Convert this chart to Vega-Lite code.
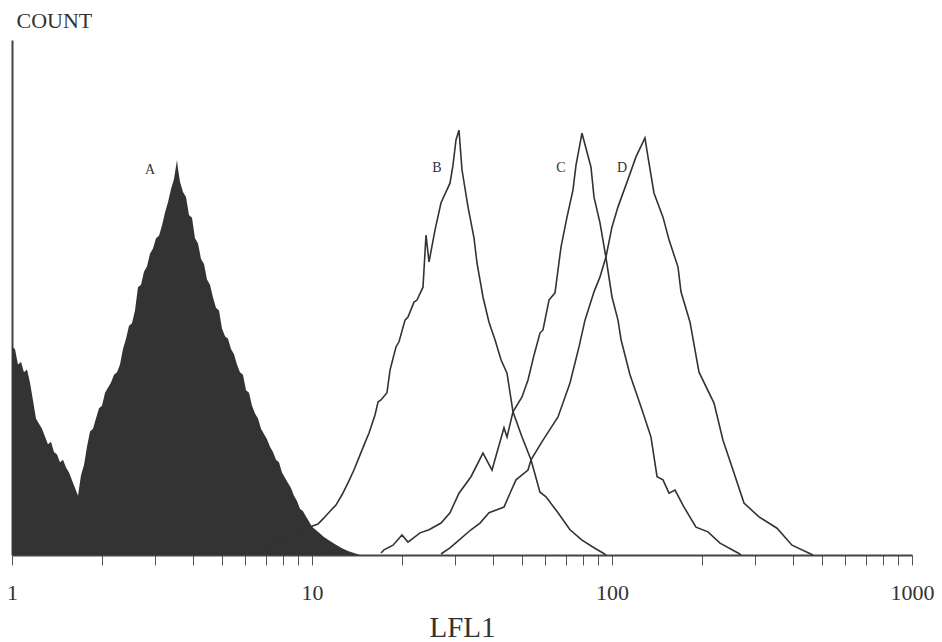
{
  "$schema": "https://vega.github.io/schema/vega-lite/v6.json",
  "width": 900,
  "height": 515,
  "autosize": {"type": "none"},
  "padding": {"left": 12, "top": 40, "right": 30, "bottom": 87},
  "background": "white",
  "config": {"view": {"stroke": null}, "font": "Liberation Serif"},
  "datasets": {
    "histA": [
      {"v": 1.000, "c": 40.4}, {"v": 1.023, "c": 40.0}, {"v": 1.047, "c": 37.0}, {"v": 1.072, "c": 37.5},
      {"v": 1.096, "c": 35.5}, {"v": 1.122, "c": 36.0}, {"v": 1.148, "c": 33.5}, {"v": 1.175, "c": 30.0},
      {"v": 1.202, "c": 26.5}, {"v": 1.230, "c": 25.5}, {"v": 1.259, "c": 24.5}, {"v": 1.288, "c": 23.0},
      {"v": 1.318, "c": 21.5}, {"v": 1.349, "c": 22.0}, {"v": 1.380, "c": 20.0}, {"v": 1.413, "c": 19.5},
      {"v": 1.445, "c": 18.0}, {"v": 1.479, "c": 18.5}, {"v": 1.514, "c": 17.0}, {"v": 1.549, "c": 16.0},
      {"v": 1.585, "c": 14.5}, {"v": 1.622, "c": 13.0}, {"v": 1.660, "c": 11.5}, {"v": 1.698, "c": 15.5},
      {"v": 1.738, "c": 17.5}, {"v": 1.778, "c": 21.0}, {"v": 1.820, "c": 24.0}, {"v": 1.862, "c": 24.5},
      {"v": 1.905, "c": 26.5}, {"v": 1.950, "c": 28.5}, {"v": 1.995, "c": 29.0}, {"v": 2.042, "c": 31.5},
      {"v": 2.138, "c": 33.5}, {"v": 2.188, "c": 35.0}, {"v": 2.239, "c": 35.5}, {"v": 2.291, "c": 37.0},
      {"v": 2.344, "c": 40.0}, {"v": 2.399, "c": 42.0}, {"v": 2.455, "c": 44.5}, {"v": 2.512, "c": 45.0},
      {"v": 2.570, "c": 47.5}, {"v": 2.630, "c": 52.0}, {"v": 2.692, "c": 52.5}, {"v": 2.754, "c": 55.0},
      {"v": 2.818, "c": 56.0}, {"v": 2.884, "c": 58.5}, {"v": 2.951, "c": 59.5}, {"v": 3.020, "c": 61.5},
      {"v": 3.090, "c": 62.0}, {"v": 3.162, "c": 64.0}, {"v": 3.236, "c": 66.5}, {"v": 3.311, "c": 68.5},
      {"v": 3.388, "c": 71.0}, {"v": 3.467, "c": 73.0}, {"v": 3.521, "c": 75.5}, {"v": 3.548, "c": 76.7},
      {"v": 3.575, "c": 75.0}, {"v": 3.631, "c": 72.5}, {"v": 3.715, "c": 70.5}, {"v": 3.802, "c": 69.5},
      {"v": 3.890, "c": 66.0}, {"v": 3.981, "c": 65.5}, {"v": 4.074, "c": 61.5}, {"v": 4.169, "c": 60.5},
      {"v": 4.266, "c": 57.5}, {"v": 4.365, "c": 56.5}, {"v": 4.467, "c": 53.5}, {"v": 4.571, "c": 52.5},
      {"v": 4.677, "c": 50.0}, {"v": 4.786, "c": 48.0}, {"v": 4.898, "c": 47.5}, {"v": 5.012, "c": 44.0},
      {"v": 5.129, "c": 42.5}, {"v": 5.248, "c": 42.0}, {"v": 5.370, "c": 40.0}, {"v": 5.495, "c": 39.0},
      {"v": 5.623, "c": 37.0}, {"v": 5.754, "c": 35.5}, {"v": 5.888, "c": 35.0}, {"v": 6.026, "c": 32.0},
      {"v": 6.166, "c": 31.5}, {"v": 6.310, "c": 29.0}, {"v": 6.457, "c": 27.5}, {"v": 6.607, "c": 26.5},
      {"v": 6.761, "c": 24.5}, {"v": 6.918, "c": 23.5}, {"v": 7.079, "c": 22.5}, {"v": 7.244, "c": 21.0},
      {"v": 7.413, "c": 20.0}, {"v": 7.586, "c": 18.5}, {"v": 7.762, "c": 18.0}, {"v": 7.943, "c": 16.0},
      {"v": 8.128, "c": 15.0}, {"v": 8.318, "c": 14.0}, {"v": 8.511, "c": 13.0}, {"v": 8.710, "c": 11.5},
      {"v": 8.913, "c": 10.5}, {"v": 9.120, "c": 9.0}, {"v": 9.333, "c": 8.5}, {"v": 9.550, "c": 7.5},
      {"v": 9.772, "c": 6.5}, {"v": 10.0, "c": 5.5}, {"v": 10.47, "c": 4.5}, {"v": 10.96, "c": 3.5},
      {"v": 11.48, "c": 2.7}, {"v": 12.02, "c": 2.0}, {"v": 12.59, "c": 1.3}, {"v": 13.18, "c": 0.8},
      {"v": 13.80, "c": 0.4}, {"v": 14.45, "c": 0.0}
    ],
    "curves": [
      {"s": "B", "v": 7.079, "c": 0.4}, {"s": "B", "v": 7.413, "c": 1.9}, {"s": "B", "v": 7.586, "c": 2.9},
      {"s": "B", "v": 7.762, "c": 2.3}, {"s": "B", "v": 8.128, "c": 3.9}, {"s": "B", "v": 8.318, "c": 3.5},
      {"s": "B", "v": 8.710, "c": 4.7}, {"s": "B", "v": 9.120, "c": 4.5}, {"s": "B", "v": 9.550, "c": 5.2},
      {"s": "B", "v": 10.0, "c": 5.6}, {"s": "B", "v": 10.47, "c": 6.0}, {"s": "B", "v": 10.96, "c": 7.2},
      {"s": "B", "v": 11.48, "c": 8.5}, {"s": "B", "v": 12.02, "c": 9.7}, {"s": "B", "v": 12.59, "c": 11.7},
      {"s": "B", "v": 13.18, "c": 14.0}, {"s": "B", "v": 13.80, "c": 16.5}, {"s": "B", "v": 14.45, "c": 19.4},
      {"s": "B", "v": 15.14, "c": 22.3}, {"s": "B", "v": 15.49, "c": 23.7}, {"s": "B", "v": 16.22, "c": 27.2},
      {"s": "B", "v": 16.60, "c": 29.7}, {"s": "B", "v": 16.98, "c": 30.1}, {"s": "B", "v": 17.78, "c": 31.5},
      {"s": "B", "v": 18.20, "c": 35.9}, {"s": "B", "v": 19.05, "c": 40.4}, {"s": "B", "v": 19.50, "c": 41.4},
      {"s": "B", "v": 20.42, "c": 45.6}, {"s": "B", "v": 20.89, "c": 46.2}, {"s": "B", "v": 21.88, "c": 49.1},
      {"s": "B", "v": 22.39, "c": 49.5}, {"s": "B", "v": 23.44, "c": 52.0}, {"s": "B", "v": 23.99, "c": 62.1},
      {"s": "B", "v": 24.55, "c": 56.9}, {"s": "B", "v": 25.70, "c": 63.1}, {"s": "B", "v": 26.92, "c": 68.4},
      {"s": "B", "v": 28.84, "c": 72.2}, {"s": "B", "v": 29.51, "c": 75.7}, {"s": "B", "v": 30.20, "c": 80.6},
      {"s": "B", "v": 30.90, "c": 82.5}, {"s": "B", "v": 31.62, "c": 74.8}, {"s": "B", "v": 33.11, "c": 67.6},
      {"s": "B", "v": 34.67, "c": 61.6}, {"s": "B", "v": 35.48, "c": 56.7}, {"s": "B", "v": 37.15, "c": 50.1},
      {"s": "B", "v": 38.90, "c": 45.2}, {"s": "B", "v": 40.74, "c": 41.8}, {"s": "B", "v": 42.66, "c": 37.9},
      {"s": "B", "v": 44.67, "c": 35.3}, {"s": "B", "v": 46.77, "c": 27.8}, {"s": "B", "v": 50.12, "c": 22.9},
      {"s": "B", "v": 53.70, "c": 18.5}, {"s": "B", "v": 57.54, "c": 12.2}, {"s": "B", "v": 60.26, "c": 11.3},
      {"s": "B", "v": 66.07, "c": 8.2}, {"s": "B", "v": 72.44, "c": 4.9}, {"s": "B", "v": 79.43, "c": 2.9},
      {"s": "B", "v": 87.10, "c": 1.4}, {"s": "B", "v": 93.33, "c": 0.4}, {"s": "B", "v": 95.50, "c": 0.0},

      {"s": "C", "v": 16.98, "c": 0.4}, {"s": "C", "v": 17.38, "c": 1.0}, {"s": "C", "v": 18.62, "c": 1.9},
      {"s": "C", "v": 19.95, "c": 3.9}, {"s": "C", "v": 20.89, "c": 2.5}, {"s": "C", "v": 22.91, "c": 4.3},
      {"s": "C", "v": 24.55, "c": 4.9}, {"s": "C", "v": 26.92, "c": 6.2}, {"s": "C", "v": 28.84, "c": 8.2},
      {"s": "C", "v": 30.90, "c": 12.0}, {"s": "C", "v": 33.88, "c": 15.2}, {"s": "C", "v": 37.15, "c": 19.8},
      {"s": "C", "v": 39.81, "c": 16.5}, {"s": "C", "v": 43.65, "c": 24.7}, {"s": "C", "v": 44.67, "c": 22.9},
      {"s": "C", "v": 46.77, "c": 27.8}, {"s": "C", "v": 50.12, "c": 30.7}, {"s": "C", "v": 52.48, "c": 34.0},
      {"s": "C", "v": 54.95, "c": 38.8}, {"s": "C", "v": 57.54, "c": 43.1}, {"s": "C", "v": 58.88, "c": 43.7},
      {"s": "C", "v": 61.66, "c": 49.5}, {"s": "C", "v": 64.57, "c": 50.9}, {"s": "C", "v": 67.61, "c": 59.8},
      {"s": "C", "v": 70.79, "c": 65.6}, {"s": "C", "v": 74.13, "c": 70.9}, {"s": "C", "v": 75.86, "c": 75.7},
      {"s": "C", "v": 79.43, "c": 81.9}, {"s": "C", "v": 85.11, "c": 75.3}, {"s": "C", "v": 87.10, "c": 69.5},
      {"s": "C", "v": 91.20, "c": 64.5}, {"s": "C", "v": 95.50, "c": 57.7}, {"s": "C", "v": 100.0, "c": 50.1},
      {"s": "C", "v": 104.7, "c": 45.6}, {"s": "C", "v": 107.2, "c": 41.8}, {"s": "C", "v": 114.8, "c": 35.0},
      {"s": "C", "v": 125.9, "c": 28.2}, {"s": "C", "v": 134.9, "c": 22.9}, {"s": "C", "v": 141.3, "c": 15.2},
      {"s": "C", "v": 147.9, "c": 14.6}, {"s": "C", "v": 154.9, "c": 12.0}, {"s": "C", "v": 162.2, "c": 12.6},
      {"s": "C", "v": 173.8, "c": 9.3}, {"s": "C", "v": 190.5, "c": 5.4}, {"s": "C", "v": 208.9, "c": 4.5},
      {"s": "C", "v": 229.1, "c": 2.3}, {"s": "C", "v": 263.0, "c": 0.4}, {"s": "C", "v": 269.2, "c": 0.0},

      {"s": "D", "v": 26.92, "c": 0.2}, {"s": "D", "v": 28.84, "c": 1.4}, {"s": "D", "v": 30.90, "c": 2.9},
      {"s": "D", "v": 33.88, "c": 4.9}, {"s": "D", "v": 36.31, "c": 6.2}, {"s": "D", "v": 38.90, "c": 8.2},
      {"s": "D", "v": 43.65, "c": 9.3}, {"s": "D", "v": 45.71, "c": 12.0}, {"s": "D", "v": 47.86, "c": 14.6},
      {"s": "D", "v": 52.48, "c": 16.5}, {"s": "D", "v": 53.70, "c": 18.5}, {"s": "D", "v": 58.88, "c": 22.3},
      {"s": "D", "v": 66.07, "c": 26.8}, {"s": "D", "v": 72.44, "c": 33.4}, {"s": "D", "v": 77.62, "c": 40.4},
      {"s": "D", "v": 81.28, "c": 45.6}, {"s": "D", "v": 87.10, "c": 51.1}, {"s": "D", "v": 91.20, "c": 54.0},
      {"s": "D", "v": 95.50, "c": 57.9}, {"s": "D", "v": 100.0, "c": 63.7}, {"s": "D", "v": 104.7, "c": 67.6},
      {"s": "D", "v": 112.2, "c": 72.4}, {"s": "D", "v": 120.2, "c": 77.3}, {"s": "D", "v": 128.8, "c": 81.0},
      {"s": "D", "v": 131.8, "c": 77.3}, {"s": "D", "v": 138.0, "c": 70.3}, {"s": "D", "v": 147.9, "c": 65.6},
      {"s": "D", "v": 154.9, "c": 61.2}, {"s": "D", "v": 166.0, "c": 55.9}, {"s": "D", "v": 169.8, "c": 51.1},
      {"s": "D", "v": 182.0, "c": 45.2}, {"s": "D", "v": 195.0, "c": 35.5}, {"s": "D", "v": 218.8, "c": 29.5},
      {"s": "D", "v": 234.4, "c": 22.3}, {"s": "D", "v": 251.2, "c": 17.1}, {"s": "D", "v": 275.4, "c": 10.1},
      {"s": "D", "v": 309.0, "c": 7.4}, {"s": "D", "v": 354.8, "c": 5.2}, {"s": "D", "v": 398.1, "c": 1.9},
      {"s": "D", "v": 467.7, "c": 0.0}
    ],
    "labels": [
      {"t": "A", "v": 2.884, "c": 74.8},
      {"t": "B", "v": 26.1, "c": 75.1},
      {"t": "C", "v": 67.6, "c": 75.1},
      {"t": "D", "v": 108.0, "c": 75.1}
    ]
  },
  "encoding": {
    "x": {
      "field": "v", "type": "quantitative",
      "scale": {"type": "log", "domain": [1, 1000], "nice": false},
      "axis": {
        "title": "LFL1",
        "titleFont": "Liberation Serif", "titleFontSize": 29, "titleFontWeight": "normal", "titleColor": "#333",
        "titleBaseline": "alphabetic", "titleY": 81,
        "values": [1,2,3,4,5,6,7,8,9,10,20,30,40,50,60,70,80,90,100,200,300,400,500,600,700,800,900,1000],
        "labelExpr": "(datum.value == 1 || datum.value == 10 || datum.value == 100 || datum.value == 1000) ? format(datum.value, 'd') : ''",
        "labelOverlap": false, "labelFlush": false,
        "labelFont": "Liberation Serif", "labelFontSize": 22, "labelColor": "#333",
        "labelPadding": 17,
        "tickSize": 10, "tickColor": "#555", "tickWidth": 1,
        "domainColor": "#444", "domainWidth": 2,
        "grid": false
      }
    },
    "y": {
      "field": "c", "type": "quantitative",
      "scale": {"domain": [0, 100], "nice": false},
      "axis": {
        "title": "COUNT",
        "titleFont": "Liberation Serif", "titleFontSize": 22, "titleFontWeight": "normal", "titleColor": "#333",
        "titleAngle": 0, "titleAlign": "left", "titleBaseline": "alphabetic",
        "titleX": 4, "titleY": -13,
        "labels": false, "ticks": false, "grid": false,
        "domainColor": "#444", "domainWidth": 2
      }
    }
  },
  "layer": [
    {
      "data": {"name": "histA"},
      "mark": {"type": "area", "color": "#333333", "opacity": 1, "interpolate": "linear"},
      "encoding": {}
    },
    {
      "data": {"name": "curves"},
      "mark": {"type": "line", "color": "#333333", "strokeWidth": 1.6, "interpolate": "linear"},
      "encoding": {"detail": {"field": "s", "type": "nominal"}}
    },
    {
      "data": {"name": "labels"},
      "mark": {"type": "text", "font": "Liberation Serif", "fontSize": 14, "color": "#333", "align": "center", "baseline": "middle"},
      "encoding": {"text": {"field": "t", "type": "nominal"}}
    }
  ]
}
